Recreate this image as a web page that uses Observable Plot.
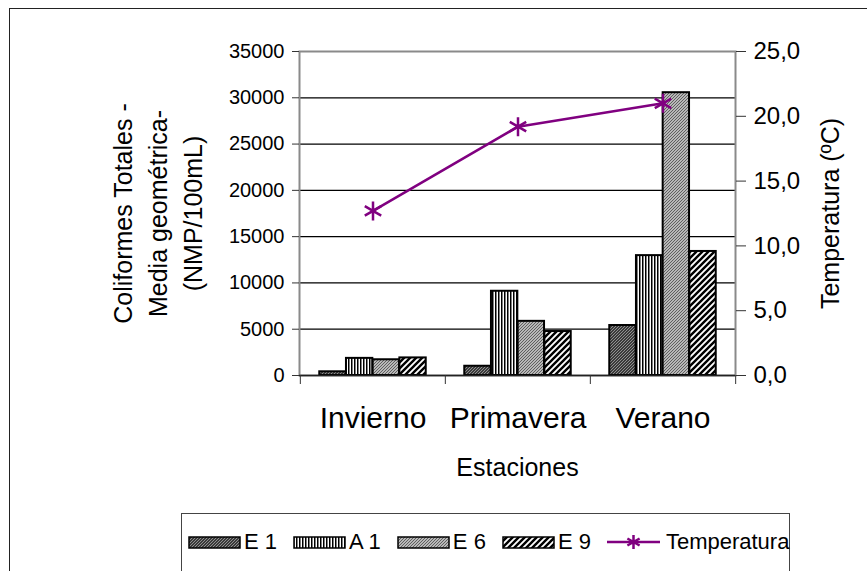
<!DOCTYPE html>
<html>
<head>
<meta charset="utf-8">
<script src="https://cdn.jsdelivr.net/npm/d3@7"></script>
<script src="https://cdn.jsdelivr.net/npm/@observablehq/plot@0.6"></script>
<style>
  body { margin: 0; background: #fff; font-family: "Liberation Sans", Arial, sans-serif; }
  #wrap { position: relative; width: 867px; height: 571px; overflow: hidden; background: #fff; }
  #outer { position: absolute; left: 9px; top: 8px; width: 900px; height: 600px; border: 1.5px solid #222; box-sizing: border-box; pointer-events: none; }
  #chart { position: absolute; left: 0; top: 0; }
  #legend { position: absolute; left: 181px; top: 513px; width: 609px; height: 80px; border: 1px solid #444; box-sizing: border-box; background: #fff;
            display: flex; align-items: flex-start; padding-top: 17px; padding-left: 6px; font-size: 22px; color: #000; white-space: nowrap; }
  .item { display: flex; align-items: center; margin-right: 16px; height: 22px; white-space: nowrap; flex: none; }
  .item svg { margin-right: 3px; flex: none; }
</style>
</head>
<body>
<div id="wrap">
  <div id="chart"></div>
  <div id="legend"></div>
  <div id="outer"></div>
</div>
<script>
// ---- data ----
const seasons = ["Invierno", "Primavera", "Verano"];
const series = ["E 1", "A 1", "E 6", "E 9"];
const valuesE1 = [400, 1000, 5400];
const valuesA1 = [1850, 9100, 12950];
const valuesE6 = [1700, 5850, 30550];
const valuesE9 = [1900, 4750, 13400];
const temperatura = [12.7, 19.2, 21.0];
const leftTicks = [0, 5000, 10000, 15000, 20000, 25000, 30000, 35000];
const rightTicks = [0, 5, 10, 15, 20, 25];
const yMax = 35000, tMax = 25;

const allValues = [valuesE1, valuesA1, valuesE6, valuesE9];
const rows = [];
series.forEach((s, i) => seasons.forEach((season, j) => rows.push({season, series: s, idx: i, value: allValues[i][j]})));
const temps = seasons.map((season, j) => ({season, t: temperatura[j]}));
const k = yMax / tMax;

// ---- layout ----
const W = 867, H = 500;
const mL = 299, mR = 132, mT = 51, mB = 125;
const bw = (W - mL - mR) / seasons.length;
const barW = 26.7, groupOff = (bw - barW * series.length) / 2;
const purple = "#800080";

const barMarks = series.map((s, i) => Plot.barY(rows.filter(r => r.idx === i), {
  x: "season", y: "value",
  fill: `url(#pat-${i})`, stroke: "#000", strokeWidth: 2,
  insetLeft: groupOff + barW * i,
  insetRight: bw - groupOff - barW * (i + 1)
}));

const chart = Plot.plot({
  width: W, height: H,
  marginLeft: mL, marginRight: mR, marginTop: mT, marginBottom: mB,
  style: {fontFamily: "'Liberation Sans', Arial, sans-serif", color: "#000", background: "transparent", overflow: "visible"},
  x: {type: "band", domain: seasons, padding: 0},
  y: {domain: [0, yMax]},
  marks: [
    Plot.ruleY(leftTicks.filter(d => d > 0 && d < yMax), {stroke: "#000", strokeWidth: 1.2}),
    Plot.frame({stroke: "#8a8a8a", strokeWidth: 2}),
    ...barMarks,
    Plot.ruleY([0], {stroke: "#222", strokeWidth: 1.5}),
    Plot.line(temps, {x: "season", y: d => d.t * k, stroke: purple, strokeWidth: 2.5}),
    Plot.dot(temps, {x: "season", y: d => d.t * k, symbol: "asterisk", r: 9, stroke: purple, strokeWidth: 2.5}),
    Plot.axisY({anchor: "left", ticks: leftTicks, tickFormat: d => String(d), tickSize: 7, tickPadding: 8, fontSize: 20, label: null, stroke: "#333"}),
    Plot.axisY({anchor: "right", ticks: rightTicks.map(t => t * k), tickFormat: d => (d / k).toFixed(1).replace(".", ","), tickSize: 10, tickPadding: 8, fontSize: 24, label: null, stroke: "#333"}),
    Plot.axisX({anchor: "bottom", tickSize: 0, tickPadding: 31, fontSize: 30, label: null}),
    Plot.axisX({anchor: "bottom", tickSize: 9, tickFormat: () => "", dx: -bw / 2, label: null, stroke: "#333"}),
    Plot.axisX({anchor: "bottom", ticks: [seasons[seasons.length - 1]], tickSize: 9, tickFormat: () => "", dx: bw / 2, label: null, stroke: "#333"}),
    Plot.text(["Estaciones"], {text: d => d, frameAnchor: "bottom", dy: 92, lineAnchor: "middle", fontSize: 25}),
    Plot.text(["Coliformes Totales -\nMedia geométrica-\n(NMP/100mL)"], {text: d => d, frameAnchor: "left", rotate: -90, dx: -144, textAnchor: "middle", lineAnchor: "middle", lineHeight: 1.4, fontSize: 25}),
    Plot.text(["Temperatura (ºC)"], {text: d => d, frameAnchor: "right", rotate: -90, dx: 95, textAnchor: "middle", lineAnchor: "middle", fontSize: 25})
  ]
});

const defs = `
<pattern id="pat-0" patternUnits="userSpaceOnUse" width="3" height="3">
  <rect width="3" height="3" fill="#3a3a3a"/>
  <path d="M0,3 L3,0" stroke="#9a9a9a" stroke-width="0.9"/>
</pattern>
<pattern id="pat-1" patternUnits="userSpaceOnUse" width="3" height="4">
  <rect width="3" height="4" fill="#fff"/>
  <rect width="1.5" height="4" fill="#000"/>
</pattern>
<pattern id="pat-2" patternUnits="userSpaceOnUse" width="3" height="3">
  <rect width="3" height="3" fill="#b8b8b8"/>
  <path d="M0,3 L3,0 M-1,1 L1,-1 M2,4 L4,2" stroke="#555" stroke-width="0.9"/>
</pattern>
<pattern id="pat-3" patternUnits="userSpaceOnUse" width="6" height="6">
  <rect width="6" height="6" fill="#fff"/>
  <path d="M0,6 L6,0 M-3,3 L3,-3 M3,9 L9,3" stroke="#000" stroke-width="2.4"/>
</pattern>`;
d3.select(chart).insert("defs", ":first-child").html(defs);
document.getElementById("chart").append(chart);

// ---- legend ----
const legend = d3.select("#legend");
series.forEach((s, i) => {
  const it = legend.append("div").attr("class", "item");
  it.append("svg").attr("width", 53).attr("height", 13)
    .append("rect").attr("x", 1).attr("y", 1).attr("width", 51).attr("height", 11)
    .attr("fill", `url(#pat-${i})`).attr("stroke", "#000").attr("stroke-width", 1.5);
  it.append("span").text(s);
});
const lt = legend.append("div").attr("class", "item");
const ls = lt.append("svg").attr("width", 56).attr("height", 22);
ls.append("line").attr("x1", 0).attr("x2", 53).attr("y1", 11).attr("y2", 11).attr("stroke", purple).attr("stroke-width", 2.5);
ls.append("path").attr("transform", "translate(26.5,11)").attr("d", d3.symbol(d3.symbolAsterisk, 140)()).attr("stroke", purple).attr("stroke-width", 2.5).attr("fill", "none");
lt.append("span").text("Temperatura");
</script>
</body>
</html>
